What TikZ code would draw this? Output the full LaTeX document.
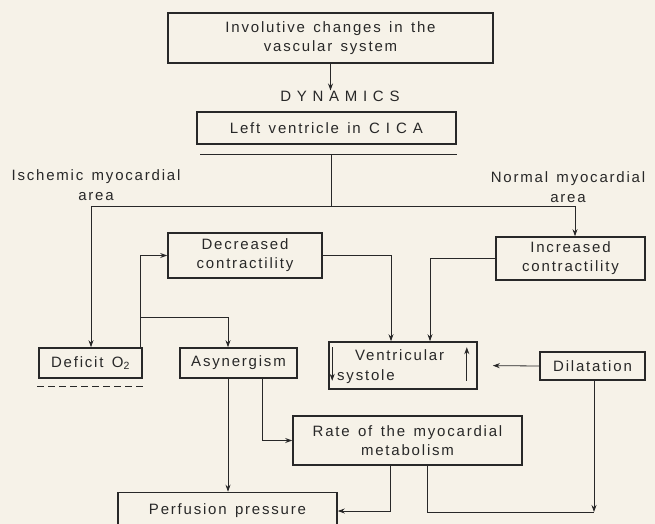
\documentclass[tikz,border=0pt]{standalone}
\usepackage{fontspec}
\setmainfont{Liberation Sans}[LetterSpace=12,WordSpace=1.4]
\usetikzlibrary{arrows.meta,calc}
\definecolor{paper}{RGB}{246,242,232}
\definecolor{ink}{RGB}{40,40,40}
\begin{document}
\begin{tikzpicture}[x=1pt,y=-1pt,
 box/.style={draw=ink,line width=1.6pt,align=center,inner sep=0pt,text=ink,font=\fontsize{15}{19}\selectfont},
 conn/.style={draw=ink,line width=0.8pt,-{Stealth[length=7pt,width=5pt]}},
 plain/.style={draw=ink,line width=0.8pt},
 lbl/.style={align=center,text=ink,font=\fontsize{15}{20}\selectfont,inner sep=0pt}]
\fill[paper] (0,0) rectangle (655,524);
\useasboundingbox (0,0) rectangle (655,524);

\node[box,minimum width=325pt,minimum height=50pt] (inv) at (330.5,38) {Involutive changes in the\\vascular system};
\node[lbl] (dyn) at (340,96) {\addfontfeature{LetterSpace=38}DYNAMICS};
\node[box,minimum width=259pt,minimum height=32pt] (lv) at (326.5,128) {Left ventricle in {\addfontfeature{LetterSpace=40}CICA}};
\node[box,minimum width=154pt,minimum height=45pt] (dec) at (245,255.5) {Decreased\\contractility};
\node[box,minimum width=149pt,minimum height=43pt] (inc) at (570.5,258.5) {Increased\\contractility};
\node[box,minimum width=103pt,minimum height=30pt] (def) at (90.5,363) {Deficit O\textsubscript{2}};
\node[box,minimum width=117pt,minimum height=30pt] (asy) at (238.5,363) {Asynergism};
\node[box,minimum width=148pt,minimum height=47pt] (vs) at (403,365.5) {};
\node[lbl,anchor=west] (vs1) at (355,355) {Ventricular};
\node[lbl,anchor=west] (vs2) at (337,377) {systole};
\node[box,minimum width=105pt,minimum height=28pt] (dil) at (592.5,366) {Dilatation};
\node[box,minimum width=229pt,minimum height=49pt] (rate) at (407.5,440.5) {Rate of the myocardial\\metabolism};
\node[box,minimum width=219pt,minimum height=37pt] (perf) at (227.5,511) {Perfusion pressure};

\node[lbl] (isch) at (96,185) {Ischemic myocardial\\area};
\node[lbl] (norm) at (568,187) {Normal myocardial\\area};

\draw[conn] (inv.south) -- (inv.south |- dyn.north);
\coordinate (ulL) at (200,154);
\coordinate (ulR) at (457,154);
\draw[plain] (ulL) -- (ulR);
\coordinate (split) at (331,154);
\coordinate (hl) at (91,206);
\coordinate (hr) at (575,206);
\draw[plain] (split) -- (split |- hl);
\draw[plain] (hl) -- (hr);
\draw[conn] (hl) -- (hl |- def.north);
\draw[conn] (hr) -- (hr |- inc.north);

\coordinate (defR) at ($(def.north east)+(-2,0)$);
\draw[conn] (defR) |- (dec.west);
\coordinate (br) at (140,317);
\coordinate (asyIn) at (228,317);
\draw[conn] (br) -- (asyIn) -- (asyIn |- asy.north);

\coordinate (vsA) at ($(vs.north)+(-12,0)$);
\coordinate (vsB) at ($(vs.north)+(27,0)$);
\draw[conn] (dec.east) -| (vsA);
\draw[conn] (inc.west) -| (vsB);
\draw[conn,shorten >=15pt] (dil.west) -- (vs.east);

\coordinate (asyA) at ($(asy.south)+(-10.5,0)$);
\coordinate (asyB) at ($(asy.south)+(23.5,0)$);
\draw[conn] (asyA) -- (asyA |- perf.north);
\draw[conn] (asyB) |- (rate.west);

\coordinate (rA) at ($(rate.south)+(-17.5,0)$);
\coordinate (rB) at ($(rate.south)+(19.5,0)$);
\coordinate (join) at (594,512);
\draw[conn] (rA) |- (perf.east);
\draw[plain] (rB) |- (join);
\coordinate (dilOut) at ($(dil.south)+(1.5,0)$);
\draw[conn] (dilOut) -- (join);

\coordinate (dashL) at ($(def.south west)+(-1,8)$);
\coordinate (dashR) at ($(def.south east)+(1,8)$);
\draw[plain,dash pattern=on 7pt off 4pt] (dashL) -- (dashR);

\coordinate (vdA) at ($(vs.north west)+(4,6)$);
\coordinate (vdB) at ($(vs.south west)+(4,-9)$);
\draw[conn] (vdA) -- (vdB);
\coordinate (vuA) at ($(vs.south east)+(-11,-9)$);
\coordinate (vuB) at ($(vs.north east)+(-11,6)$);
\draw[conn] (vuA) -- (vuB);
\end{tikzpicture}
\end{document}
